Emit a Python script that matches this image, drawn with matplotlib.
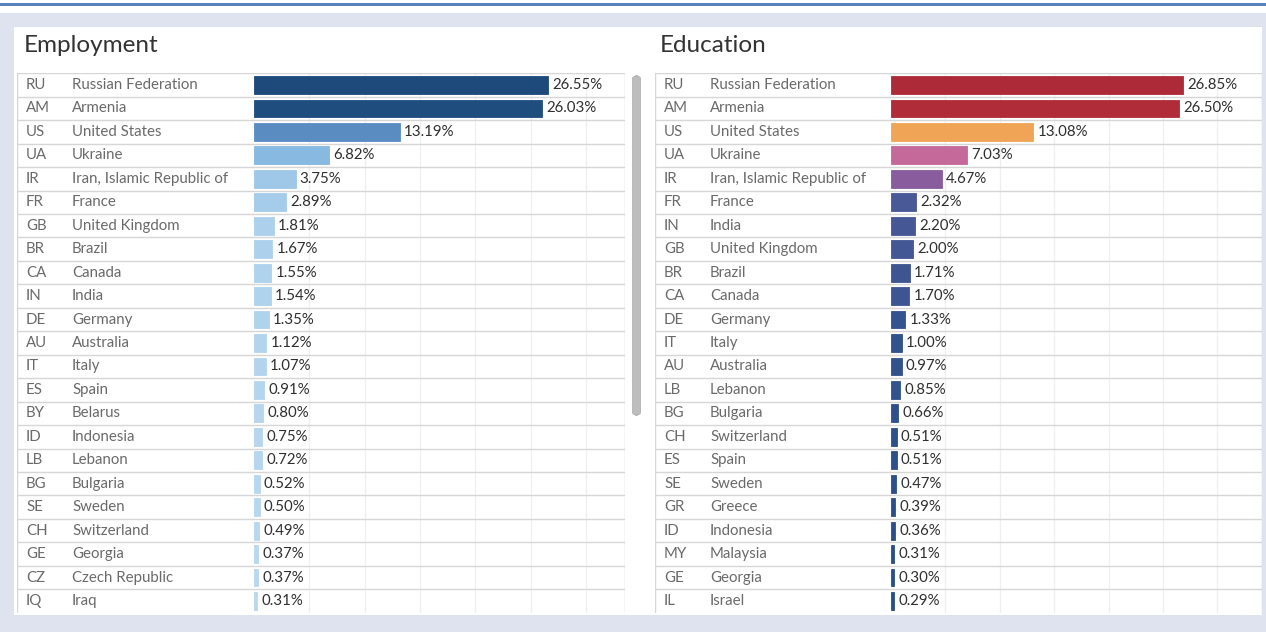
import matplotlib

matplotlib.use("Agg")

import matplotlib.pyplot as plt
from matplotlib.colors import LinearSegmentedColormap, Normalize
from matplotlib.patches import FancyBboxPatch, Rectangle

plt.rcParams["font.family"] = ["Lato", "DejaVu Sans"]

W, H = 1266, 632

emp_codes = ["RU", "AM", "US", "UA", "IR", "FR", "GB", "BR", "CA", "IN", "DE", "AU",
             "IT", "ES", "BY", "ID", "LB", "BG", "SE", "CH", "GE", "CZ", "IQ"]
emp_names = ["Russian Federation", "Armenia", "United States", "Ukraine",
             "Iran, Islamic Republic of", "France", "United Kingdom", "Brazil", "Canada",
             "India", "Germany", "Australia", "Italy", "Spain", "Belarus", "Indonesia",
             "Lebanon", "Bulgaria", "Sweden", "Switzerland", "Georgia", "Czech Republic", "Iraq"]
emp_values = [26.55, 26.03, 13.19, 6.82, 3.75, 2.89, 1.81, 1.67, 1.55, 1.54, 1.35, 1.12,
              1.07, 0.91, 0.80, 0.75, 0.72, 0.52, 0.50, 0.49, 0.37, 0.37, 0.31]

edu_codes = ["RU", "AM", "US", "UA", "IR", "FR", "IN", "GB", "BR", "CA", "DE", "IT",
             "AU", "LB", "BG", "CH", "ES", "SE", "GR", "ID", "MY", "GE", "IL"]
edu_names = ["Russian Federation", "Armenia", "United States", "Ukraine",
             "Iran, Islamic Republic of", "France", "India", "United Kingdom", "Brazil",
             "Canada", "Germany", "Italy", "Australia", "Lebanon", "Bulgaria", "Switzerland",
             "Spain", "Sweden", "Greece", "Indonesia", "Malaysia", "Georgia", "Israel"]
edu_values = [26.85, 26.50, 13.08, 7.03, 4.67, 2.32, 2.20, 2.00, 1.71, 1.70, 1.33, 1.00,
              0.97, 0.85, 0.66, 0.51, 0.51, 0.47, 0.39, 0.36, 0.31, 0.30, 0.29]

emp_cmap = LinearSegmentedColormap.from_list(
    "emp", [(0.0, "#bad9f0"), (0.26, "#86b8e1"), (0.5, "#5a8cc1"), (1.0, "#1d4a7b")])
edu_cmap = LinearSegmentedColormap.from_list(
    "edu", [(0.0, "#284f88"), (0.05, "#36538e"), (0.09, "#4b5a98"), (0.175, "#8b5c9e"),
            (0.26, "#c4689b"), (0.49, "#f0a654"), (0.8, "#c8403f"), (1.0, "#ad2b38")])


def fx(px):
    return px / W


def fy(py):
    return 1 - py / H


def draw_panel(fig, title, codes, names, values, cmap, left, bar0, right, scale, title_x):
    top, bottom = 73.3, 612.7
    ax = fig.add_axes([fx(left), fy(bottom), fx(right - left), (bottom - top) / H])
    n = len(values)
    ax.set_xlim(-(bar0 - left) / scale, (right - bar0) / scale)
    ax.set_ylim(n - 0.5, -0.5)
    ax.axis("off")

    # row separators across the whole table, grid only in the bar area
    for k in range(n):
        ax.axhline(k - 0.5, color="#d6d6d6", lw=1.0, zorder=1)
    ax.vlines([5, 10, 15, 20, 25, 30], -0.5, n - 0.5, color="#efefef", lw=0.9, zorder=0)
    ax.axvline(ax.get_xlim()[0], color="#d6d6d6", lw=1.0, zorder=1)
    ax.axvline(ax.get_xlim()[1], color="#d6d6d6", lw=1.0, zorder=1)

    norm = Normalize(0, max(values))
    colors = [cmap(norm(v)) for v in values]
    ys = list(range(n))
    ax.barh(ys, values, height=0.76, left=0, color=colors, edgecolor=colors,
            linewidth=0.6, zorder=2)

    code_x = (left + 9 - bar0) / scale
    name_x = (left + 55 - bar0) / scale
    for y, c, nm, v in zip(ys, codes, names, values):
        ax.text(code_x, y, c, ha="left", va="center", fontsize=10.8, color="#6a6a6a")
        ax.text(name_x, y, nm, ha="left", va="center", fontsize=10.8, color="#6a6a6a")
        ax.annotate(f"{v:.2f}%", (v, y), xytext=(3, 0), textcoords="offset points",
                    ha="left", va="center", fontsize=10.8, color="#2f2f2f", zorder=3)

    fig.text(fx(title_x), fy(45), title, ha="left", va="center", fontsize=17.5,
             color="#333333")
    return ax


fig = plt.figure(figsize=(W / 100, H / 100), dpi=100)
fig.patch.set_facecolor("white")

# dashboard background and white container
fig.add_artist(Rectangle((0, 0), 1, fy(13), transform=fig.transFigure,
                         facecolor="#dfe3f0", edgecolor="none", zorder=0))
fig.add_artist(Rectangle((0, fy(5.5)), 1, 2.2 / H, transform=fig.transFigure,
                         facecolor="#5782bd", edgecolor="none", zorder=0))
fig.add_artist(Rectangle((fx(14), fy(615)), fx(1262 - 14), (615 - 27) / H,
                         transform=fig.transFigure, facecolor="white",
                         edgecolor="none", zorder=0))

draw_panel(fig, "Employment", emp_codes, emp_names, emp_values, emp_cmap,
           left=17, bar0=254, right=625, scale=11.07, title_x=24)
draw_panel(fig, "Education", edu_codes, edu_names, edu_values, edu_cmap,
           left=655, bar0=891, right=1262, scale=10.875, title_x=660)

# scrollbar between the two tables
fig.add_artist(FancyBboxPatch((fx(632.5), fy(415)), fx(8), (415 - 76) / H,
                              boxstyle="round,pad=0,rounding_size=0.004",
                              transform=fig.transFigure, facecolor="#bdbdbd",
                              edgecolor="#b3b3b3", lw=0.6, zorder=3))

fig.savefig("out.png", dpi=100)
plt.close(fig)
